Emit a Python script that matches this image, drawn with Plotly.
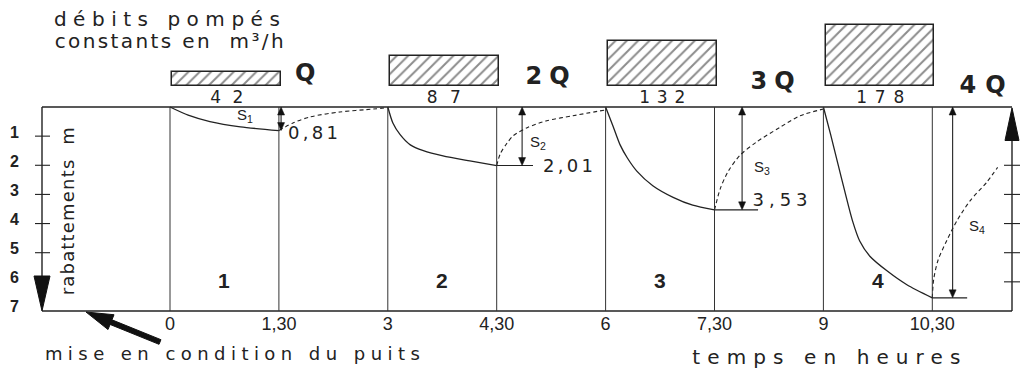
import json
import plotly.graph_objects as go

# ---- pumping test data -------------------------------------------------
step_start = [0, 3, 6, 9]            # start of each pumping step (h)
step_len = 1.5                       # duration of each step (h)
discharge = [42, 87, 132, 178]       # constant discharge (m3/h)
discharge_name = ["Q", "2Q", "3Q", "4Q"]
step_label = ["1", "2", "3", "4"]

tick_hours = [0, 1.5, 3, 4.5, 6, 7.5, 9, 10.5]
tick_text = ["0", "1,30", "3", "4,30", "6", "7,30", "9", "10,30"]
depth_ticks = [1, 2, 3, 4, 5, 6, 7]

# drawdown while pumping (m)
pump1_t = [0, 0.25, 0.55, 0.97, 1.5]
pump1_s = [0, 0.28, 0.5, 0.68, 0.81]
pump2_t = [3, 3.07, 3.17, 3.31, 3.49, 3.76, 4.13, 4.5]
pump2_s = [0, 0.55, 0.95, 1.3, 1.5, 1.68, 1.85, 2.01]
pump3_t = [6, 6.1, 6.2, 6.3, 6.43, 6.65, 6.93, 7.2, 7.5]
pump3_s = [0, 0.64, 1.3, 1.75, 2.2, 2.7, 3.1, 3.37, 3.53]
pump4_t = [9, 9.1, 9.2, 9.3, 9.4, 9.5, 9.64, 9.88, 10.15, 10.5]
pump4_s = [0, 0.95, 1.95, 2.95, 3.9, 4.6, 5.12, 5.63, 6.1, 6.55]

# residual drawdown after each stop (recovery)
rec1_t = [1.5, 1.7, 1.93, 2.34, 2.8, 3.0]
rec1_s = [0.81, 0.54, 0.34, 0.17, 0.07, 0.02]
rec2_t = [4.5, 4.55, 4.64, 4.73, 4.92, 5.19, 5.55, 6.0]
rec2_s = [2.01, 1.6, 1.25, 0.98, 0.71, 0.47, 0.3, 0.1]
rec3_t = [7.5, 7.58, 7.69, 7.85, 8.08, 8.4, 8.68, 9.0]
rec3_s = [3.53, 2.8, 2.2, 1.66, 1.2, 0.7, 0.3, 0.07]
rec4_t = [10.5, 10.52, 10.58, 10.7, 10.84, 11.02, 11.25, 11.4]
rec4_s = [6.55, 5.9, 5.25, 4.58, 3.9, 3.22, 2.58, 2.07]

pump_t = [pump1_t, pump2_t, pump3_t, pump4_t]
pump_s = [pump1_s, pump2_s, pump3_s, pump4_s]
rec_t = [rec1_t, rec2_t, rec3_t, rec4_t]
rec_s = [rec1_s, rec2_s, rec3_s, rec4_s]
final_s = [s[-1] for s in pump_s]

# ---- page geometry -----------------------------------------------------
W, H = 1021, 370
X0_PX, PX_PER_H = 170.0, 72.6        # pixel of t=0, pixels per hour
TOP_PX, PX_PER_M = 107.0, 29.14      # pixel of zero drawdown, pixels per metre
BASE_PX, PX_PER_Q = 86.0, 0.34       # baseline of discharge blocks, px per m3/h
INK = "#222222"
FONT = "Liberation Sans"
WIDE = "DejaVu Sans"


def hx(px):
    return (px - X0_PX) / PX_PER_H


def my(py):
    return (py - TOP_PX) / PX_PER_M


def dh(px):
    return px / PX_PER_H


def dm(px):
    return px / PX_PER_M


T_LEFT, T_RIGHT = hx(42), hx(1012)

fig = go.Figure()

# discharge blocks
fig.add_trace(go.Bar(
    x=[t + step_len / 2 + 0.03 for t in step_start], y=discharge, width=step_len,
    yaxis="y2",
    marker=dict(color="white", line=dict(color=INK, width=1.5),
                pattern=dict(shape="/", fgcolor="#1a1a1a", bgcolor="white", size=8, solidity=0.25)),
    hoverinfo="skip",
))

for t, s in zip(pump_t, pump_s):
    fig.add_trace(go.Scatter(x=t, y=s, mode="lines",
                             line=dict(color=INK, width=1.3, shape="spline", smoothing=0.7),
                             hoverinfo="skip"))
for t, s in zip(rec_t, rec_s):
    fig.add_trace(go.Scatter(x=t, y=s, mode="lines",
                             line=dict(color=INK, width=1.1, dash="4px,3px", shape="spline", smoothing=0.8),
                             hoverinfo="skip"))

# ---- frame, axes and reference lines -----------------------------------
shapes = []


def seg(x0, y0, x1, y1, w=1.2, c=INK):
    shapes.append(dict(type="line", xref="x", yref="y", x0=x0, y0=y0, x1=x1, y1=y1,
                       line=dict(color=c, width=w)))


def poly(pts, lw=1):
    path = "M " + " L ".join(f"{x:.4f},{y:.4f}" for x, y in pts) + " Z"
    shapes.append(dict(type="path", xref="x", yref="y", path=path,
                       fillcolor="#111111", line=dict(color="#111111", width=lw)))


seg(T_LEFT, 0, T_RIGHT, 0, 1.5)
seg(T_LEFT, 7, T_RIGHT, 7, 1.5)
seg(T_LEFT, 0, T_LEFT, 6.2, 1.4)
seg(T_RIGHT, 7, T_RIGHT, 0.8, 1.4)
for t in tick_hours:
    seg(t, 0, t, 7, 1.0, "#333333")
for v in depth_ticks[:5]:
    seg(T_LEFT - dh(7), v, T_LEFT + dh(8), v, 1.1)
for v in depth_ticks[1:6]:
    seg(T_RIGHT - dh(8), v, T_RIGHT + dh(8), v, 1.1)
# arrowheads of the two depth axes
poly([(T_LEFT - dh(8), 5.8), (T_LEFT + dh(8), 5.8), (T_LEFT, 7.0)])
poly([(T_RIGHT - dh(7), 1.15), (T_RIGHT + dh(7), 1.15), (T_RIGHT, 0.03)])

# level lines at the end of steps 2-4
for t, s, ext in zip(step_start[1:], final_s[1:], [0.5, 0.6, 0.48]):
    seg(t + step_len, s, t + step_len + ext, s, 1.1)

# drawdown arrows S1..S4 (double headed)
for s, at in zip(final_s, [1.53, 4.85, 7.88, 10.78]):
    seg(at, dm(6), at, s - dm(6), 1.1)
    poly([(at, 0.0), (at - dh(3.5), dm(8)), (at + dh(3.5), dm(8))], 0.5)
    poly([(at, s), (at - dh(3.5), s - dm(8)), (at + dh(3.5), s - dm(8))], 0.5)

# thick pointer towards the well's initial state
tail, tip = (160.0, 342.0), (86.0, 312.0)
dx, dy = tip[0] - tail[0], tip[1] - tail[1]
ln = (dx * dx + dy * dy) ** 0.5
ux, uy = dx / ln, dy / ln
nx, ny = -uy, ux
neck = (tip[0] - ux * 27, tip[1] - uy * 27)
pts_px = [
    (tail[0] + nx * 2.5, tail[1] + ny * 2.5),
    (neck[0] + nx * 2.5, neck[1] + ny * 2.5),
    (neck[0] + nx * 8, neck[1] + ny * 8),
    tip,
    (neck[0] - nx * 8, neck[1] - ny * 8),
    (neck[0] - nx * 2.5, neck[1] - ny * 2.5),
    (tail[0] - nx * 2.5, tail[1] - ny * 2.5),
]
poly([(hx(x), my(y)) for x, y in pts_px])

# ---- text -------------------------------------------------------------
annotations = []
spread = {}   # annotation index -> rendered width in px (letter spacing)


def note(text, x, y, xref="paper", yref="paper", size=17, width=None, bold=False,
         family=FONT, **kw):
    a = dict(text=text, x=x, y=y, xref=xref, yref=yref, showarrow=False,
             xanchor="center", yanchor="middle",
             font=dict(family=family, size=size, color=INK,
                       weight="bold" if bold else "normal"))
    a.update(kw)
    if width:
        spread[str(len(annotations))] = width
    annotations.append(a)


def px_x(px):
    return px / W


def px_y(py):
    return 1 - py / H


note("débits pompés", px_x(167), px_y(19), size=20, width=226, family=WIDE)
note("constants en  m³/h", px_x(169), px_y(41), size=20, width=229, family=WIDE)
note("mise en condition du puits", px_x(232), px_y(353), size=18, width=375, family=WIDE)
note("temps en heures", px_x(826), px_y(357), size=20, width=268, family=WIDE)
note("rabattements  m", hx(67), my(211), "x", "y", size=18, width=168, textangle=-90,
     family=WIDE)

for v in depth_ticks:
    note(str(v), hx(14), v, "x", "y", size=16, bold=True, yshift=4)

for name, cx, cy, w in zip(discharge_name, [305, 547, 772, 982],
                           [73, 76, 81, 85], [25, 44, 44, 46]):
    note(name, px_x(cx), px_y(cy), size=24, bold=True, width=w if len(name) > 1 else None,
         family=WIDE)

for q, t, w in zip(discharge, step_start, [33, 34, 46, 48]):
    note(str(q), t + step_len / 2 + 0.03, 0, "x", "y2", size=17, width=w,
         yanchor="top", yshift=1, family=WIDE)

for lab, t in zip(step_label, step_start):
    note(lab, t + step_len / 2, 5.97, "x", "y", size=21, bold=True,
         family="Liberation Sans Narrow, Liberation Sans")

for t, s, off, ys, w in zip(step_start[:3], final_s[:3], [0.47, 0.98, 0.9], [-2, 0, 10],
                           [50, 50, 55]):
    note(f"{s:.2f}".replace(".", ","), t + step_len + off, s, "x", "y", size=18,
         width=w, yshift=ys, family=WIDE)

for i, (tx, sy) in enumerate([(1.03, 0.3), (5.07, 1.22), (8.15, 2.06), (11.12, 4.1)]):
    note(f"S<sub>{i + 1}</sub>", tx, sy, "x", "y", size=15)

fig.update_layout(
    width=W, height=H, margin=dict(l=0, r=0, t=0, b=0),
    paper_bgcolor="white", plot_bgcolor="white", showlegend=False,
    xaxis=dict(range=[hx(0), hx(W)], anchor="free", position=1 - 311 / H,
               tickvals=tick_hours, ticktext=tick_text, ticks="", showline=False,
               showgrid=False, zeroline=False,
               tickfont=dict(family=FONT, size=18, color=INK)),
    yaxis=dict(range=[my(H), my(0)], domain=[0, 1], visible=False),
    yaxis2=dict(range=[0, BASE_PX / PX_PER_Q], domain=[1 - BASE_PX / H, 1],
                anchor="x", visible=False),
    shapes=shapes, annotations=annotations, bargap=0,
)

SPACING_JS = """
var gd = document.getElementById('{plot_id}');
var target = %s;
gd.querySelectorAll('g.annotation').forEach(function (g) {
  var w = target[g.getAttribute('data-index')];
  if (!w) { return; }
  var t = g.querySelector('text.annotation-text');
  if (!t) { return; }
  var n = t.textContent.length;
  if (n < 2) { return; }
  var sp = (w - t.getComputedTextLength()) / (n - 1);
  t.style.letterSpacing = sp.toFixed(2) + 'px';
  t.setAttribute('dx', (sp / 2).toFixed(2));
});
""" % json.dumps(spread)

fig.write_html("out.html", post_script=SPACING_JS)
